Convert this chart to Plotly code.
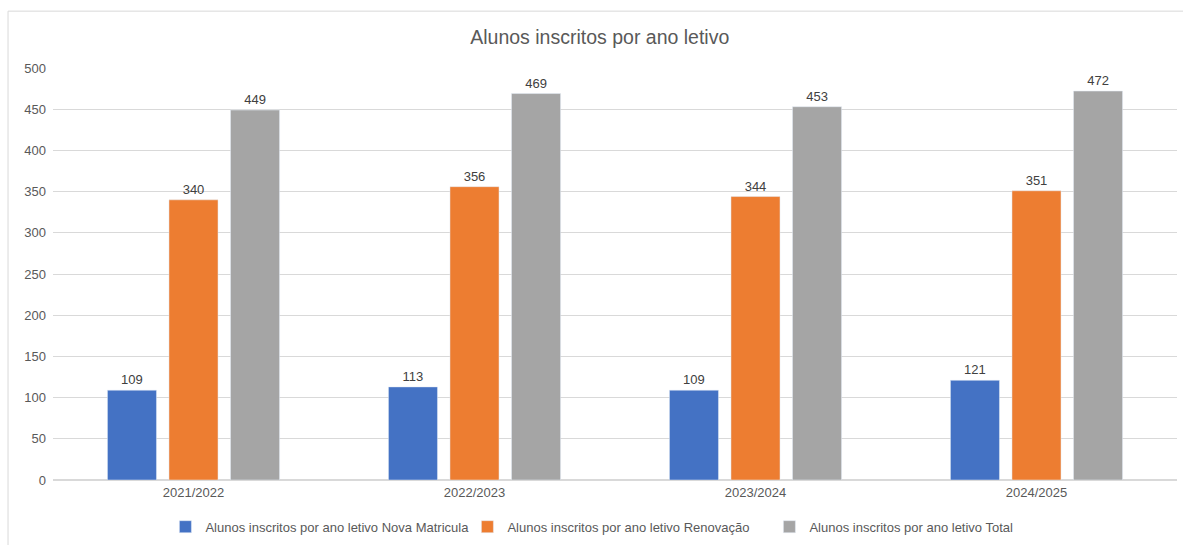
import plotly.graph_objects as go

categories = ["2021/2022", "2022/2023", "2023/2024", "2024/2025"]
nova = [109, 113, 109, 121]
renovacao = [340, 356, 344, 351]
total = [449, 469, 453, 472]
series_names = [
    "Alunos inscritos por ano letivo Nova Matricula",
    "Alunos inscritos por ano letivo Renovação",
    "Alunos inscritos por ano letivo Total",
]
colors = ["#4472C4", "#ED7D31", "#A5A5A5"]

fig = go.Figure()
for name, vals, col in zip(series_names, [nova, renovacao, total], colors):
    fig.add_trace(go.Bar(
        x=categories, y=vals, name=name, marker_color=col,
        text=vals, textposition="outside", cliponaxis=False,
        textfont=dict(size=13, color="#404040", family="Liberation Sans"),
    ))

fig.update_layout(
    width=1183, height=545,
    margin=dict(l=53, r=6, t=68, b=65, autoexpand=False),
    paper_bgcolor="white", plot_bgcolor="white",
    barmode="group", bargap=0.343, bargroupgap=0.203,
    title=dict(text="Alunos inscritos por ano letivo", x=0.507, xanchor="center",
               y=0.932, yanchor="middle",
               font=dict(size=19.5, color="#595959", family="Liberation Sans")),
    font=dict(family="Liberation Sans", color="#595959"),
    showlegend=True,
    legend=dict(orientation="h", x=0.1, xanchor="left", y=-0.077, yanchor="top",
                font=dict(size=13, color="#595959", family="Liberation Sans"),
                itemwidth=30, traceorder="normal",
                entrywidth=257, entrywidthmode="pixels"),
    shapes=[dict(type="rect", xref="paper", yref="paper",
                 x0=-0.04, x1=1.2, y0=-0.5, y1=1.138,
                 line=dict(color="#D9D9D9", width=1), layer="below")],
)
fig.update_yaxes(range=[0, 500], dtick=50, showgrid=True, gridcolor="#D9D9D9",
                 zeroline=True, zerolinecolor="#D9D9D9", showline=False,
                 tickfont=dict(size=13, color="#595959"), ticks="", ticklen=0,
                 ticklabelstandoff=6)
fig.update_xaxes(showgrid=False, showline=True, linecolor="#D9D9D9",
                 tickfont=dict(size=13, color="#595959"), ticks="")

fig.write_html("out.html")
